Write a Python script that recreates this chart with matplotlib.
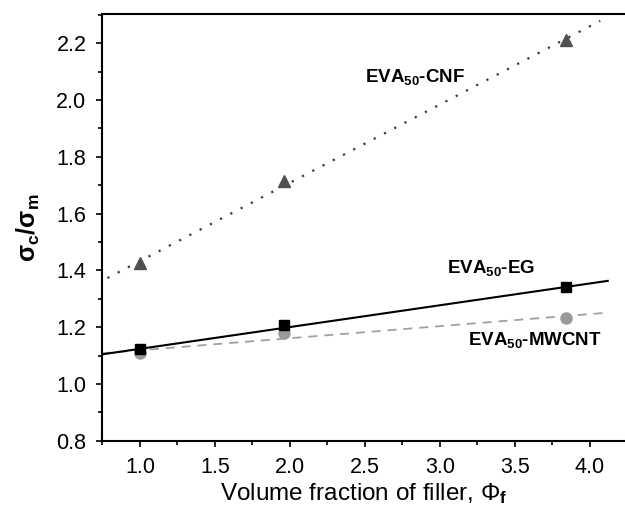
import matplotlib
matplotlib.use("Agg")
import matplotlib.pyplot as plt
from matplotlib.ticker import MultipleLocator, FormatStrFormatter

plt.rcParams['font.family'] = ['Liberation Sans', 'DejaVu Sans']
plt.rcParams['mathtext.fontset'] = 'custom'
plt.rcParams['mathtext.rm'] = 'Liberation Sans'
plt.rcParams['mathtext.it'] = 'Liberation Sans'
plt.rcParams['mathtext.bf'] = 'Liberation Sans:bold'

# Data
filler_x = [1.0, 1.96, 3.84]
cnf_y = [1.425, 1.715, 2.211]
eg_y = [1.122, 1.206, 1.341]
mwcnt_y = [1.108, 1.180, 1.231]

# fitted lines, endpoints
cnf_fit_x = [0.783, 4.07]
cnf_fit_y = [1.373, 2.279]
eg_fit_x = [0.745, 4.12]
eg_fit_y = [1.104, 1.363]
mwcnt_fit_x = [0.75, 4.12]
mwcnt_fit_y = [1.108, 1.251]

x_ticks = [1.0, 1.5, 2.0, 2.5, 3.0, 3.5, 4.0]
y_ticks = [0.8, 1.0, 1.2, 1.4, 1.6, 1.8, 2.0, 2.2]

fig = plt.figure(figsize=(6.25, 5.14), dpi=100)
ax = fig.add_axes([101.7 / 625, 1 - 440.7 / 514, 1 - 101.7 / 625, (440.7 - 14.3) / 514])

ax.plot(cnf_fit_x, cnf_fit_y, color='#3a3a3a', lw=1.6, linestyle=(0, (1, 4.2)))
ax.plot(mwcnt_fit_x, mwcnt_fit_y, color='#a0a0a0', lw=1.3, linestyle=(0, (5.0, 3.8)))
ax.plot(eg_fit_x, eg_fit_y, color='black', lw=1.5)

ax.plot(filler_x, cnf_y, linestyle='none', marker='^', ms=9, color='#505050')
ax.plot(filler_x, mwcnt_y, linestyle='none', marker='o', ms=8, color='#9a9a9a')
ax.plot(filler_x, eg_y, linestyle='none', marker='s', ms=6.5, color='black')

ax.set_xlim(0.745, 4.235)
ax.set_ylim(0.8, 2.302)
ax.set_xticks(x_ticks)
ax.set_yticks(y_ticks)
ax.xaxis.set_minor_locator(MultipleLocator(0.25))
ax.yaxis.set_minor_locator(MultipleLocator(0.1))
ax.xaxis.set_major_formatter(FormatStrFormatter('%.1f'))
ax.yaxis.set_major_formatter(FormatStrFormatter('%.1f'))

for s in ['left', 'bottom', 'top']:
    ax.spines[s].set_linewidth(1.5)
ax.spines['right'].set_visible(False)
ax.tick_params(which='both', direction='out', width=1.2, top=False, right=False)
ax.tick_params(which='major', length=4.5, labelsize=15.5)
ax.tick_params(axis='x', which='major', pad=7.5)
ax.tick_params(axis='y', which='major', pad=6.5)
ax.tick_params(which='minor', length=2.8)

ax.set_xlabel(r'Volume fraction of filler, $\Phi_\mathbf{f}$', fontsize=17.5, labelpad=2)
ax.set_ylabel(r'$\mathbf{\sigma_c/\sigma_m}$', fontsize=18, labelpad=10)

ax.text(2.5, 2.064, r'EVA$_{\mathbf{50}}$-CNF', fontsize=13.5, fontweight='bold')
ax.text(3.05, 1.389, r'EVA$_{\mathbf{50}}$-EG', fontsize=13.5, fontweight='bold')
ax.text(3.19, 1.137, r'EVA$_{\mathbf{50}}$-MWCNT', fontsize=13.5, fontweight='bold')

fig.savefig('out.png', dpi=100)
